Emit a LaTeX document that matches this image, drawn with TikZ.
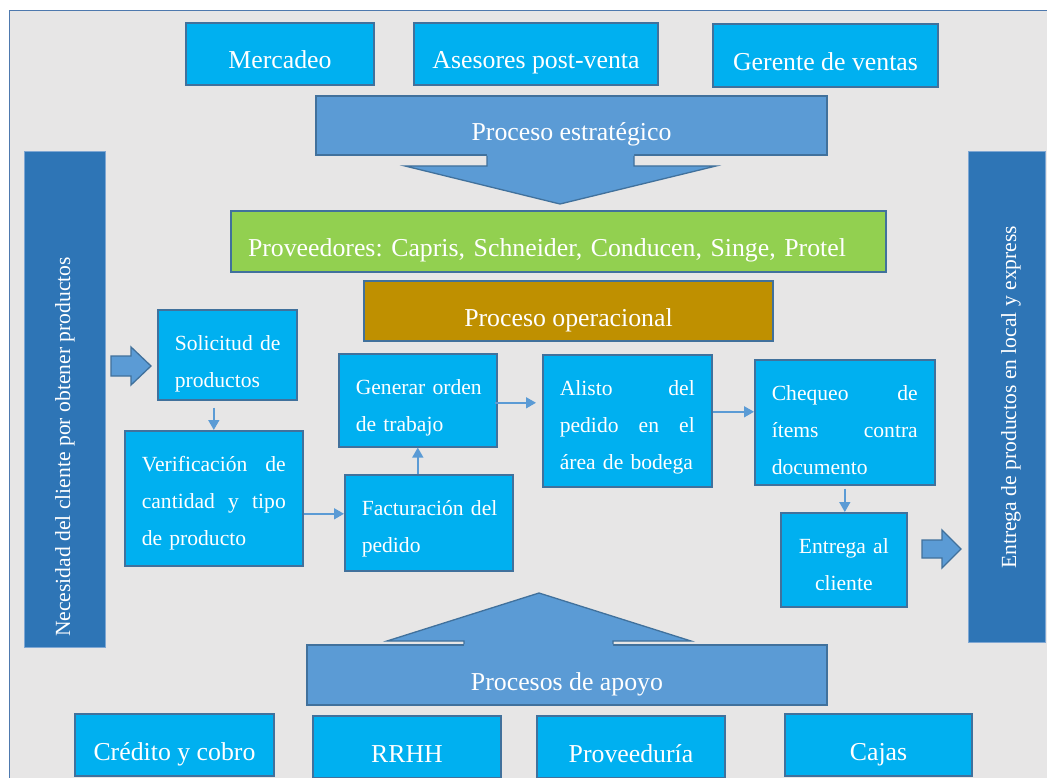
\documentclass[tikz,border=0pt]{standalone}
\usepackage{fontspec}
\setmainfont{Liberation Serif}
\usetikzlibrary{calc,arrows.meta}
\frenchspacing

\definecolor{pagebg}{HTML}{E7E6E6}
\definecolor{framec}{HTML}{4E79AE}
\definecolor{cyanbox}{HTML}{00B0F0}
\definecolor{edgeblue}{HTML}{41719C}
\definecolor{midblue}{HTML}{5B9BD5}
\definecolor{darkbar}{HTML}{2E75B6}
\definecolor{barline}{HTML}{7FA7D3}
\definecolor{provgreen}{HTML}{92D050}
\definecolor{opgold}{HTML}{BF9000}

\tikzset{
  bx/.style={draw=edgeblue, line width=1.6pt, fill=cyanbox, text=white, inner sep=0pt},
  bigtxt/.style={font=\fontsize{25.8}{30}\selectfont, text height=30pt, text depth=0pt},
  topbox/.style={bx, bigtxt},
  flowbox/.style={bx, anchor=north west, inner xsep=17pt, inner ysep=0pt,
    text height=41pt, font=\fontsize{21.6}{37}\selectfont, align=left},
  sidebar/.style={draw=barline, line width=1pt, fill=darkbar, inner sep=0pt},
  sidetext/.style={text=white, inner sep=0pt, rotate=90, anchor=west,
    font=\fontsize{21.6}{26}\selectfont},
  blockarrow/.style={fill=midblue, draw=edgeblue, line width=1.3pt, line join=miter},
  conn/.style={draw=midblue, line width=1.5pt, -{Triangle[length=10pt,width=11pt]}}
}

\begin{document}
\begin{tikzpicture}[x=1pt, y=-1pt]
\useasboundingbox (0,0) rectangle (1047,778);
\clip (0,0) rectangle (1047,778);

% outer frame
\draw[draw=framec, line width=1.6pt, fill=pagebg] (9.5,10.5) rectangle (1070,800);

% top row
\node[topbox, minimum width=188pt, minimum height=62pt] (merc) at (280,54) {Mercadeo};
\node[topbox, minimum width=244pt, minimum height=62pt] (ases) at (536,54) {Asesores post-venta};
\node[topbox, minimum width=225pt, minimum height=63pt] (gere) at (825.5,55.5) {Gerente de ventas};

% strategic process with its downward arrow
\node[topbox, fill=midblue, minimum width=511pt, minimum height=59pt] (estr) at (571.5,125.5) {Proceso estratégico};
\fill[midblue] (487,151) -- (487,166) -- (405,166) -- (560,204) -- (716,166) -- (634,166) -- (634,151) -- cycle;
\draw[draw=edgeblue, line width=1.3pt, line join=miter] (487,156) -- (487,166) -- (405,166) -- (560,204) -- (716,166) -- (634,166) -- (634,156);

% suppliers and operational process
\node[topbox, fill=provgreen, minimum width=655pt, minimum height=61pt, text width=621pt, inner xsep=17pt, align=left] (prov) at (558.5,241.5) {Proveedores: Capris, Schneider, Conducen, Singe, Protel};
\node[topbox, fill=opgold, minimum width=409pt, minimum height=60pt] (oper) at (568.5,311) {Proceso operacional};

% side bars
\node[sidebar, minimum width=81pt, minimum height=495pt] (need) at (64.5,399.5) {};
\node[sidetext] (needT) at (65,637) {Necesidad del cliente por obtener productos};
\node[sidebar, minimum width=77pt, minimum height=490pt] (deliv) at (1006.5,397) {};
\node[sidetext] (delivT) at (1011,569) {Entrega de productos en local y express};

% block arrows in and out of the flow
\draw[blockarrow] (111,356) -- (131,356) -- (131,347) -- (151,366) -- (131,385) -- (131,376) -- (111,376) -- cycle;
\draw[blockarrow] (922,540) -- (942,540) -- (942,530) -- (961,549) -- (942,568) -- (942,558) -- (922,558) -- cycle;

% operational flow
\node[flowbox, text width=105pt, text depth=49pt] (sol) at (157,309)
  {\mbox{Solicitud de}\\\mbox{productos}};
\node[flowbox, text width=144pt, text depth=94pt] (ver) at (124,430)
  {Verificación\hfill de\\cantidad\hfill y\hfill tipo\\\mbox{de producto}};
\node[flowbox, text width=124pt, text depth=52pt] (gen) at (338,353)
  {\mbox{Generar orden}\\\mbox{de trabajo}};
\node[flowbox, text width=134pt, text depth=55pt] (fac) at (344,474)
  {\mbox{Facturación del}\\\mbox{pedido}};
\node[flowbox, text width=135pt, text depth=91pt] (ali) at (542,354)
  {Alisto\hfill del\\pedido\hfill en\hfill el\\\mbox{área de bodega}};
\node[flowbox, text width=146pt, text depth=84pt] (che) at (754,359)
  {Chequeo\hfill de\\ítems\hfill contra\\\mbox{documento}};
\node[flowbox, text width=92pt, text depth=53pt, align=center] (ent) at (780,512)
  {\mbox{Entrega al}\\\mbox{cliente}};

% connectors
\draw[conn] ($(sol.south -| ver.north)+(0,7)$) -- (ver.north);
\coordinate (vf) at ($(ver.east)+(0,15.5)$);
\draw[conn] (vf) -- (vf -| fac.west);
\draw[conn] (fac.north -| gen.south) -- (gen.south);
\coordinate (ga) at ($(gen.east)+(-3,2.5)$);
\draw[conn] (ga) -- ($(ga -| ali.west)+(-6,0)$);
\coordinate (ac) at ($(ali.east)+(0,-9)$);
\draw[conn] (ac) -- (ac -| che.west);
\draw[conn] ($(che.south)+(0,3)$) -- (che.south |- ent.north);

% support processes with their upward arrow
\node[topbox, fill=midblue, minimum width=520pt, minimum height=60pt] (apoy) at (567,675) {Procesos de apoyo};
\fill[midblue] (464,649) -- (464,641) -- (387,641) -- (539,593) -- (691,641) -- (613,641) -- (613,649) -- cycle;
\draw[draw=edgeblue, line width=1.3pt, line join=miter] (464,644) -- (464,641) -- (387,641) -- (539,593) -- (691,641) -- (613,641) -- (613,644);

% bottom row
\node[topbox, minimum width=199pt, minimum height=62pt] (cred) at (174.5,745) {Crédito y cobro};
\node[topbox, minimum width=188pt, minimum height=62pt] (rrhh) at (407,747) {RRHH};
\node[topbox, minimum width=188pt, minimum height=62pt] (prvd) at (631,747) {Proveeduría};
\node[topbox, minimum width=187pt, minimum height=62pt] (caja) at (878.5,745) {Cajas};
\end{tikzpicture}
\end{document}
